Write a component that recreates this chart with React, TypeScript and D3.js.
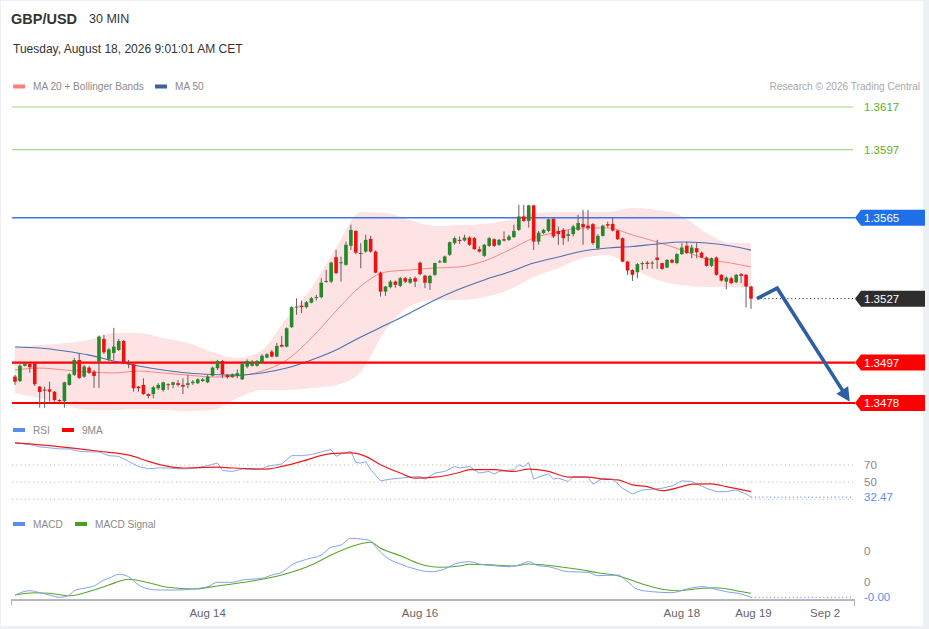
import * as d3 from "d3";

const W = 929;
const H = 629;

const pair = "GBP/USD";
const period = "30 MIN";
const stamp = "Tuesday, August 18, 2026 9:01:01 AM CET";

// 30 min candles, oldest first
const opens = [
  1.34904, 1.34883, 1.34955, 1.34963, 1.34967, 1.34857, 1.34843, 1.34844, 1.34833, 1.34794,
  1.34789, 1.34865, 1.34912, 1.34982, 1.34904, 1.34946, 1.34927, 1.34974, 1.35081, 1.34985,
  1.35015, 1.35029, 1.35071, 1.34969, 1.34962, 1.34857, 1.34865, 1.34822, 1.34822, 1.34849,
  1.34841, 1.34868, 1.34865, 1.34873, 1.34865, 1.34865, 1.34873, 1.34873, 1.34883, 1.34877,
  1.34908, 1.34943, 1.34977, 1.34912, 1.34901, 1.34907, 1.34891, 1.34951, 1.34955, 1.34955,
  1.34971, 1.34993, 1.35021, 1.34998, 1.35053, 1.35045, 1.35136, 1.35231, 1.35237, 1.3523,
  1.35251, 1.35275, 1.35277, 1.3535, 1.3535, 1.35465, 1.35439, 1.35429, 1.35518, 1.35588,
  1.35485, 1.35491, 1.35551, 1.35491, 1.35392, 1.35303, 1.35324, 1.3535, 1.3533, 1.35366,
  1.35345, 1.35366, 1.35439, 1.35378, 1.35343, 1.35382, 1.35444, 1.35439, 1.35476, 1.35531,
  1.35546, 1.35543, 1.35557, 1.35554, 1.35502, 1.35471, 1.35518, 1.35549, 1.35523, 1.35549,
  1.35546, 1.35559, 1.35593, 1.35656, 1.35635, 1.35708, 1.35538, 1.35578, 1.35588, 1.35645,
  1.35588, 1.35593, 1.35565, 1.35573, 1.35593, 1.35621, 1.35613, 1.3562, 1.35507, 1.35565,
  1.3562, 1.35621, 1.3559, 1.35554, 1.35444, 1.35405, 1.35394, 1.35432, 1.35439, 1.35438,
  1.35463, 1.35437, 1.35416, 1.35452, 1.35437, 1.35479, 1.35519, 1.35484, 1.35507, 1.35486,
  1.35463, 1.35424, 1.35463, 1.35382, 1.3535, 1.35366, 1.35347, 1.35385, 1.35382, 1.35327,
];
const highs = [
  1.34912, 1.34962, 1.34971, 1.34968, 1.34969, 1.3486, 1.34857, 1.3488, 1.34836, 1.34797,
  1.3488, 1.3492, 1.34992, 1.35015, 1.34959, 1.34954, 1.34935, 1.35097, 1.351, 1.35039,
  1.35133, 1.35081, 1.35076, 1.34982, 1.34963, 1.3486, 1.34896, 1.34825, 1.3486, 1.34873,
  1.3488, 1.34873, 1.3488, 1.34888, 1.34896, 1.34912, 1.34888, 1.34896, 1.34898, 1.34912,
  1.34951, 1.34982, 1.34982, 1.34916, 1.34919, 1.34938, 1.34974, 1.34985, 1.34982, 1.34982,
  1.35009, 1.35014, 1.35029, 1.35062, 1.35095, 1.35135, 1.35234, 1.35272, 1.35261, 1.35259,
  1.35278, 1.35288, 1.35366, 1.35405, 1.35444, 1.35499, 1.35468, 1.35538, 1.35617, 1.35591,
  1.35531, 1.3557, 1.35565, 1.35496, 1.35397, 1.3533, 1.35358, 1.35355, 1.35372, 1.35372,
  1.35372, 1.35374, 1.35444, 1.35382, 1.35382, 1.35439, 1.35452, 1.35472, 1.35538, 1.35562,
  1.35562, 1.3557, 1.35562, 1.3556, 1.35515, 1.35527, 1.3556, 1.35554, 1.35551, 1.35585,
  1.3557, 1.35617, 1.35711, 1.35711, 1.35711, 1.35711, 1.35588, 1.35598, 1.35645, 1.35648,
  1.35609, 1.35601, 1.35593, 1.35617, 1.35664, 1.35687, 1.35687, 1.35625, 1.35573, 1.35617,
  1.35632, 1.35651, 1.35593, 1.35557, 1.35447, 1.35408, 1.35437, 1.35444, 1.35447, 1.35447,
  1.35546, 1.35439, 1.35455, 1.35457, 1.35484, 1.35531, 1.35538, 1.35523, 1.35531, 1.35491,
  1.35468, 1.35463, 1.35468, 1.35385, 1.35374, 1.35374, 1.35385, 1.3539, 1.35385, 1.35331,
];
const lows = [
  1.34865, 1.34879, 1.34951, 1.34922, 1.3486, 1.34758, 1.34758, 1.34786, 1.34786, 1.34783,
  1.34758, 1.34861, 1.34907, 1.34893, 1.34898, 1.34916, 1.34851, 1.34851, 1.3501, 1.34977,
  1.34982, 1.35024, 1.34962, 1.34943, 1.34833, 1.34833, 1.34818, 1.34802, 1.34802, 1.34841,
  1.34833, 1.34841, 1.34849, 1.34857, 1.34822, 1.34849, 1.34865, 1.34869, 1.34879, 1.34873,
  1.34904, 1.34935, 1.34896, 1.34895, 1.34898, 1.34896, 1.34888, 1.34943, 1.34951, 1.34951,
  1.34968, 1.3499, 1.34994, 1.34995, 1.35041, 1.35041, 1.35133, 1.35194, 1.35202, 1.35224,
  1.35248, 1.35261, 1.35272, 1.35345, 1.35343, 1.35385, 1.3535, 1.35425, 1.35499, 1.35479,
  1.35413, 1.35486, 1.35486, 1.3539, 1.3528, 1.35283, 1.35318, 1.35321, 1.35324, 1.35343,
  1.35339, 1.35324, 1.3538, 1.35319, 1.35311, 1.35377, 1.35437, 1.35437, 1.35471, 1.35523,
  1.35527, 1.35538, 1.35518, 1.35499, 1.35486, 1.35466, 1.35513, 1.35513, 1.35518, 1.35538,
  1.35541, 1.35556, 1.35588, 1.35631, 1.35604, 1.35499, 1.35523, 1.35574, 1.35582, 1.35554,
  1.35523, 1.35523, 1.35538, 1.35562, 1.35588, 1.35523, 1.35593, 1.35523, 1.35499, 1.35562,
  1.35604, 1.35585, 1.35546, 1.35441, 1.35382, 1.35353, 1.35366, 1.35405, 1.3541, 1.3541,
  1.3541, 1.35405, 1.35413, 1.35436, 1.35432, 1.35476, 1.35479, 1.3546, 1.3546, 1.3546,
  1.35421, 1.35419, 1.35378, 1.3535, 1.35314, 1.35338, 1.35343, 1.35343, 1.35228, 1.35222,
];
const closes = [
  1.3488, 1.34955, 1.34966, 1.34948, 1.34868, 1.34832, 1.34838, 1.34833, 1.34794, 1.34789,
  1.34877, 1.34915, 1.34982, 1.34898, 1.34951, 1.34922, 1.34907, 1.35092, 1.35018, 1.35032,
  1.35045, 1.35071, 1.34967, 1.34962, 1.34849, 1.34849, 1.34822, 1.34813, 1.34854, 1.34865,
  1.34877, 1.34865, 1.34877, 1.34865, 1.34857, 1.34873, 1.3488, 1.34891, 1.34891, 1.34904,
  1.34946, 1.34977, 1.34915, 1.34901, 1.34915, 1.3492, 1.34963, 1.34977, 1.34971, 1.34977,
  1.35002, 1.35009, 1.34998, 1.35048, 1.35045, 1.35131, 1.3523, 1.35233, 1.3523, 1.35253,
  1.35272, 1.35278, 1.35345, 1.35353, 1.35439, 1.3539, 1.35441, 1.35523, 1.35593, 1.35486,
  1.35484, 1.35546, 1.35491, 1.35392, 1.35303, 1.35327, 1.3535, 1.35335, 1.35366, 1.3535,
  1.35363, 1.3535, 1.35385, 1.35345, 1.35377, 1.35437, 1.35445, 1.35468, 1.35535, 1.35554,
  1.35541, 1.35557, 1.35523, 1.35502, 1.35491, 1.35523, 1.35554, 1.35518, 1.35546, 1.35543,
  1.35562, 1.35588, 1.35656, 1.35635, 1.35708, 1.35538, 1.3558, 1.35593, 1.35643, 1.35562,
  1.35573, 1.35554, 1.35573, 1.35609, 1.35625, 1.35606, 1.35601, 1.35531, 1.35565, 1.35613,
  1.35613, 1.3559, 1.35549, 1.35444, 1.35402, 1.35382, 1.35432, 1.35437, 1.35433, 1.35439,
  1.35452, 1.3541, 1.35452, 1.35439, 1.35479, 1.3551, 1.35484, 1.3551, 1.35488, 1.35463,
  1.35424, 1.3546, 1.35382, 1.35355, 1.35369, 1.35343, 1.35382, 1.35377, 1.35327, 1.3527,
];

// MA 20, MA 50 and Bollinger Bands, read every 5th candle
const bandIdx = [...d3.range(0, 150, 5), 149];
const ma20 = [
  1.34935, 1.34944, 1.34935, 1.34926, 1.34921, 1.3493, 1.34921, 1.34911, 1.34902, 1.34907,
  1.3493, 1.34982, 1.35085, 1.35212, 1.35329, 1.35395, 1.35405, 1.35414, 1.35419, 1.35447,
  1.35498, 1.35555, 1.35583, 1.35602, 1.35602, 1.35569, 1.35536, 1.35498, 1.35456, 1.35437,
  1.35419,
];
const ma50 = [
  1.35043, 1.35038, 1.35024, 1.35005, 1.34977, 1.34954, 1.34935, 1.34921, 1.34914, 1.34911,
  1.34921, 1.34944, 1.34982, 1.35029, 1.3509, 1.35146, 1.35203, 1.35264, 1.35315, 1.35358,
  1.35395, 1.35437, 1.35466, 1.35494, 1.35508, 1.35515, 1.35527, 1.35536, 1.35531, 1.35517,
  1.35498,
];
const bbUpper = [
  1.35043, 1.35052, 1.35062, 1.35076, 1.35109, 1.35109, 1.35085, 1.35062, 1.35019, 1.34991,
  1.35029, 1.35179, 1.3532, 1.35508, 1.35677, 1.35672, 1.35639, 1.35611, 1.35616, 1.35621,
  1.35639, 1.35672, 1.35677, 1.35677, 1.35677, 1.35696, 1.35686, 1.35658, 1.35578, 1.35531,
  1.35531,
];
const bbLower = [
  1.34827, 1.34803, 1.34771, 1.34747, 1.34747, 1.34752, 1.34747, 1.34742, 1.34747, 1.34803,
  1.34841, 1.34841, 1.3485, 1.34865, 1.34926, 1.35123, 1.35236, 1.35264, 1.35264, 1.35278,
  1.35311, 1.35372, 1.35414, 1.35461, 1.35475, 1.35414, 1.35358, 1.35334, 1.35325, 1.35325,
  1.35325,
];

const resistances = [1.3617, 1.3597];
const pivot = 1.3565;
const lastPrice = 1.3527;
const supports = [1.3497, 1.3478];

// forecast arrow (candle index, price)
const arrowIdx = [150.2, 154.3, 169];
const arrowPrice = [1.3527, 1.35319, 1.34786];

// RSI and its 9 period MA
const rsiIdx = [
  0, 3, 5, 7, 9, 11, 13, 15, 17, 19, 21, 23, 25, 27, 29, 31, 33, 35, 37, 39, 41, 42, 44, 46, 48,
  50, 51, 53, 54, 56, 58, 60, 62, 64, 65, 66, 68, 69, 70, 71, 72, 74, 76, 78, 80, 82, 83, 85, 87,
  89, 90, 92, 94, 96, 97, 98, 101, 102, 103, 104, 105, 106, 108, 109, 110, 112, 113, 116, 117,
  119, 121, 123, 125, 127, 129, 131, 133, 135, 137, 140, 142, 144, 146, 148, 149,
];
const rsiVal = [
  95.9, 93.9, 91.2, 90.0, 88.8, 88.8, 86.0, 85.3, 85.3, 80.9, 80.1, 74.2, 68.3, 65.6, 66.5, 66.5,
  65.6, 65.6, 67.2, 69.2, 72.3, 63.6, 62.5, 65.3, 64.5, 65.6, 68.3, 70.3, 71.2, 80.9, 80.9, 82.1,
  85.3, 88.0, 80.1, 82.9, 86.0, 73.0, 72.3, 73.9, 64.5, 51.5, 53.5, 54.7, 55.9, 56.6, 53.5, 60.6,
  62.5, 68.3, 66.5, 68.3, 60.6, 62.5, 59.4, 62.5, 64.5, 70.3, 68.0, 73.0, 53.5, 55.9, 59.8, 53.5,
  54.7, 50.7, 56.6, 55.9, 47.6, 54.7, 53.5, 42.9, 36.2, 40.9, 41.8, 42.9, 45.6, 51.5, 50.7, 42.9,
  38.9, 38.9, 40.9, 36.2, 32.47,
];
const rsiMaIdx = [
  0, 7, 17, 24, 27, 31, 34, 41, 44, 51, 54, 58, 64, 68, 71, 74, 78, 81, 85, 90, 92, 97, 101, 104,
  108, 112, 116, 119, 122, 125, 128, 131, 135, 137, 141, 144, 149,
];
const rsiMaVal = [
  95.9, 92.7, 86.0, 80.1, 74.2, 68.3, 66.5, 67.6, 66.5, 65.3, 68.3, 74.2, 83.3, 84.1, 80.1, 70.3,
  60.6, 54.7, 55.9, 61.3, 64.5, 64.5, 62.5, 65.3, 62.5, 55.9, 55.9, 53.5, 52.7, 46.8, 44.8, 40.1,
  44.8, 47.6, 48.0, 44.8, 38.9,
];
const rsiGrid = [70, 50, 30];
const rsiTicks = [70, 50];

// MACD and signal
const macdIdx = [
  0, 3, 5, 7, 9, 11, 12, 15, 16, 18, 19, 21, 23, 25, 27, 29, 33, 36, 39, 41, 44, 46, 50, 52, 54,
  56, 59, 62, 64, 66, 68, 70, 72, 73, 75, 78, 81, 84, 87, 89, 90, 92, 94, 97, 100, 102, 104, 106,
  108, 112, 116, 118, 122, 124, 126, 129, 133, 136, 139, 141, 144, 147, 149,
];
const macdVal = [
  -0.52e-4, 0.32e-4, -0.07e-4, -0.52e-4, -0.96e-4, -0.52e-4, 0.32e-4, 0.97e-4, 1.23e-4, 2.39e-4,
  2.72e-4, 3.49e-4, 3.03e-4, 1.42e-4, 0.65e-4, 0.45e-4, 0.45e-4, 0.65e-4, 1.09e-4, 1.94e-4,
  1.94e-4, 2.39e-4, 2.72e-4, 3.35e-4, 3.88e-4, 5.29e-4, 6.39e-4, 7.23e-4, 8.72e-4, 9.16e-4,
  10.46e-4, 10.32e-4, 9.99e-4, 8.83e-4, 6.9e-4, 5.48e-4, 4.52e-4, 3.99e-4, 4.52e-4, 5.48e-4,
  5.74e-4, 5.93e-4, 5.48e-4, 5.15e-4, 4.96e-4, 5.29e-4, 5.93e-4, 5.15e-4, 4.96e-4, 3.99e-4,
  3.88e-4, 3.22e-4, 3.35e-4, 2.06e-4, 0.59e-4, 0.12e-4, -0.07e-4, 0.65e-4, 1.09e-4, 0.78e-4,
  0.12e-4, -0.32e-4, -0.96e-4,
];
const sigIdx = [
  0, 4, 7, 11, 16, 19, 23, 27, 31, 36, 41, 48, 54, 60, 64, 68, 72, 74, 78, 82, 86, 90, 92, 97,
  101, 104, 109, 114, 118, 122, 127, 131, 134, 139, 142, 146, 149,
];
const sigVal = [
  -0.52e-4, -0.07e-4, -0.19e-4, -0.65e-4, 0.45e-4, 1.42e-4, 2.52e-4, 1.86e-4, 0.97e-4, 0.65e-4,
  1.23e-4, 2.19e-4, 3.35e-4, 5.29e-4, 7.23e-4, 8.83e-4, 9.68e-4, 8.52e-4, 7.09e-4, 5.48e-4,
  4.85e-4, 5.1e-4, 5.43e-4, 5.29e-4, 5.1e-4, 5.48e-4, 5.1e-4, 4.46e-4, 3.8e-4, 3.22e-4,
  1.61e-4, 0.59e-4, 0.32e-4, 0.78e-4, 0.9e-4, 0.32e-4, -0.19e-4,
];
const macdTicks = [0.0008, 0.0002];

const dateTicks = [39, 82, 135, 149.5, 164];
const dateLabels = ["Aug 14", "Aug 16", "Aug 18", "Aug 19", "Sep 2"];

const GREEN = "#23892a";
const RED = "#ee1111";
const FONT = "'Liberation Sans', Arial, sans-serif";

export default function App() {
  const x = d3.scaleLinear().domain([0, 149]).range([15, 751]);
  const y = d3.scaleLinear().domain([1.3478, 1.3617]).range([403, 107]);
  const yRsi = d3.scaleLinear().domain([30, 70]).range([499.3, 465]);
  const yMacd = d3.scaleLinear().domain([0.0002, 0.0008]).range([582, 551]);

  const left = 12;
  const right = 855;
  const labelX = 864;

  const band = d3
    .area<number>()
    .x((d) => x(d))
    .y0((_, k) => y(bbLower[k]))
    .y1((_, k) => y(bbUpper[k]))
    .curve(d3.curveMonotoneX);
  const maLine = (vals: number[]) =>
    d3
      .line<number>()
      .x((d) => x(d))
      .y((_, k) => y(vals[k]))
      .curve(d3.curveMonotoneX)(bandIdx) || "";

  const series = (idx: number[], vals: number[], sc: d3.ScaleLinear<number, number>, curve: d3.CurveFactory) =>
    d3
      .line<number>()
      .x((d) => x(d))
      .y((_, k) => sc(vals[k]))
      .curve(curve)(idx) || "";

  const tag = (price: number, fill: string) => {
    const yy = y(price);
    return (
      <g key={"tag" + price}>
        <path
          d={`M${right},${yy} L${right + 6},${yy - 8} L925,${yy - 8} L925,${yy + 8} L${right + 6},${yy + 8} Z`}
          fill={fill}
        />
        <text x={labelX} y={yy} dy="0.36em" fill="#fff" fontSize={11.5}>
          {price.toFixed(4)}
        </text>
      </g>
    );
  };

  // arrow
  const ap = arrowIdx.map((d, k) => [x(d), y(arrowPrice[k])] as [number, number]);
  const [tx, ty] = ap[ap.length - 1];
  const [px, py] = ap[ap.length - 2];
  const len = Math.hypot(tx - px, ty - py);
  const ux = (tx - px) / len;
  const uy = (ty - py) / len;
  const headL = 14;
  const headW = 7;
  const bx = tx - ux * headL;
  const by = ty - uy * headL;
  const shaft = [...ap.slice(0, -1), [bx + ux * 2, by + uy * 2] as [number, number]];
  const head = `M${tx},${ty} L${bx - uy * headW},${by + ux * headW} L${bx + uy * headW},${by - ux * headW} Z`;

  const lastRsi = rsiVal[rsiVal.length - 1];
  const lastMacd = macdVal[macdVal.length - 1];

  return (
    <div style={{ position: "absolute", left: 0, top: 0 }}>
      <svg width={W} height={H} fontFamily={FONT} style={{ display: "block" }}>
        <rect x={0} y={0} width={W} height={H} fill="#edf1f4" />
        <rect x={1} y={1} width={922} height={625} fill="#fff" />

        {/* header */}
        <text x={11} y={23.5} fontSize={14.5} fontWeight="bold" fill="#333">
          {pair}
        </text>
        <text x={89} y={23} fontSize={12.5} fill="#333">
          {period}
        </text>
        <text x={13} y={53} fontSize={12} fill="#333">
          {stamp}
        </text>

        {/* legend */}
        <rect x={13} y={84.5} width={12} height={4} fill="#ff7f7f" />
        <text x={33} y={90} fontSize={10.1} fill="#8a8a8a">
          MA 20 + Bollinger Bands
        </text>
        <rect x={155} y={84.5} width={12} height={4} fill="#3f5f9f" />
        <text x={175} y={90} fontSize={10.1} fill="#8a8a8a">
          MA 50
        </text>
        <text x={920} y={90} fontSize={10.1} fill="#a9a9a9" textAnchor="end">
          Research © 2026 Trading Central
        </text>

        {/* bollinger + moving averages */}
        <path d={band(bandIdx) || ""} fill="#fde3e3" />
        <path d={maLine(ma20)} fill="none" stroke="#ff8686" strokeWidth={1} />
        <path d={maLine(ma50)} fill="none" stroke="#4b6fb3" strokeWidth={1.1} />

        {/* levels */}
        {resistances.map((r) => (
          <g key={r}>
            <line x1={left} x2={853} y1={y(r)} y2={y(r)} stroke="#a6d68a" strokeWidth={1.2} />
            <text x={labelX} y={y(r)} dy="0.36em" fill="#5fae1e" fontSize={11.5}>
              {r.toFixed(4)}
            </text>
          </g>
        ))}
        <line x1={left} x2={right} y1={y(pivot)} y2={y(pivot)} stroke="#3a78e6" strokeWidth={1.5} />
        {supports.map((s) => (
          <line key={s} x1={left} x2={right} y1={y(s)} y2={y(s)} stroke="#ff0000" strokeWidth={2.2} />
        ))}

        {/* candles */}
        {closes.map((c, i) => {
          const o = opens[i];
          const up = c >= o;
          const top = y(Math.max(o, c));
          const h = Math.max(1, Math.abs(y(o) - y(c)));
          return (
            <g key={i}>
              <line x1={x(i)} x2={x(i)} y1={y(highs[i])} y2={y(lows[i])} stroke="#6a5c5c" strokeWidth={1} />
              <rect x={x(i) - 1.8} y={top} width={3.6} height={h} fill={up ? GREEN : RED} />
            </g>
          );
        })}

        <line
          x1={x(150.2)}
          x2={853}
          y1={y(lastPrice)}
          y2={y(lastPrice)}
          stroke="#333"
          strokeWidth={1}
          strokeDasharray="1.2,2.6"
        />

        {/* forecast arrow */}
        <path d={d3.line()(shaft) || ""} fill="none" stroke="#2f5fa3" strokeWidth={3.6} strokeLinejoin="miter" />
        <path d={head} fill="#2f5fa3" />

        {tag(pivot, "#1f6fe8")}
        {tag(lastPrice, "#2d2d2d")}
        {supports.map((s) => tag(s, "#ff0000"))}

        {/* RSI panel */}
        <rect x={13} y={428} width={12} height={4} fill="#5b8def" />
        <text x={33} y={434} fontSize={10.1} fill="#8a8a8a">
          RSI
        </text>
        <rect x={62} y={428} width={12} height={4} fill="#ff0000" />
        <text x={82} y={434} fontSize={10.1} fill="#8a8a8a">
          9MA
        </text>
        {rsiGrid.map((g) => (
          <line key={g} x1={left} x2={853} y1={yRsi(g)} y2={yRsi(g)} stroke="#bdbdbd" strokeDasharray="1.2,3" />
        ))}
        {rsiTicks.map((t) => (
          <text key={t} x={labelX} y={yRsi(t)} dy="0.36em" fontSize={11.5} fill="#888">
            {t}
          </text>
        ))}
        <path d={series(rsiIdx, rsiVal, yRsi, d3.curveLinear)} fill="none" stroke="#86a8f2" strokeWidth={1} />
        <path d={series(rsiMaIdx, rsiMaVal, yRsi, d3.curveMonotoneX)} fill="none" stroke="#f01c1c" strokeWidth={1.2} />
        <line
          x1={x(149)}
          x2={853}
          y1={yRsi(lastRsi)}
          y2={yRsi(lastRsi)}
          stroke="#5b8def"
          strokeDasharray="1.2,2.6"
        />
        <text x={labelX} y={yRsi(lastRsi)} dy="0.36em" fontSize={11.5} fill="#5b8def">
          {lastRsi.toFixed(2)}
        </text>

        {/* MACD panel */}
        <rect x={13} y={522} width={12} height={4} fill="#5b8def" />
        <text x={33} y={528} fontSize={10.1} fill="#8a8a8a">
          MACD
        </text>
        <rect x={75} y={522} width={12} height={4} fill="#4aa01c" />
        <text x={95} y={528} fontSize={10.1} fill="#8a8a8a">
          MACD Signal
        </text>
        {macdTicks.map((t) => (
          <text key={t} x={labelX} y={yMacd(t)} dy="0.36em" fontSize={11.5} fill="#888">
            {t.toFixed(0)}
          </text>
        ))}
        <path d={series(sigIdx, sigVal, yMacd, d3.curveMonotoneX)} fill="none" stroke="#5aa52a" strokeWidth={1.1} />
        <path d={series(macdIdx, macdVal, yMacd, d3.curveMonotoneX)} fill="none" stroke="#7fa2f0" strokeWidth={1} />
        <line
          x1={x(149)}
          x2={853}
          y1={yMacd(lastMacd)}
          y2={yMacd(lastMacd)}
          stroke="#5b8def"
          strokeDasharray="1.2,2.6"
        />
        <text x={labelX} y={yMacd(lastMacd)} dy="0.36em" fontSize={11.5} fill="#5b8def">
          {lastMacd.toFixed(2)}
        </text>

        {/* time axis */}
        <line x1={11} x2={right} y1={600} y2={600} stroke="#b8b8b8" strokeWidth={2} />
        <line x1={11.5} x2={11.5} y1={600} y2={605} stroke="#b8b8b8" strokeWidth={1.2} />
        <line x1={854.5} x2={854.5} y1={600} y2={606} stroke="#b8b8b8" strokeWidth={1.2} />
        {dateTicks.map((t, k) => (
          <text key={t} x={x(t)} y={617} fontSize={11.5} fill="#666" textAnchor="middle">
            {dateLabels[k]}
          </text>
        ))}
      </svg>
    </div>
  );
}
